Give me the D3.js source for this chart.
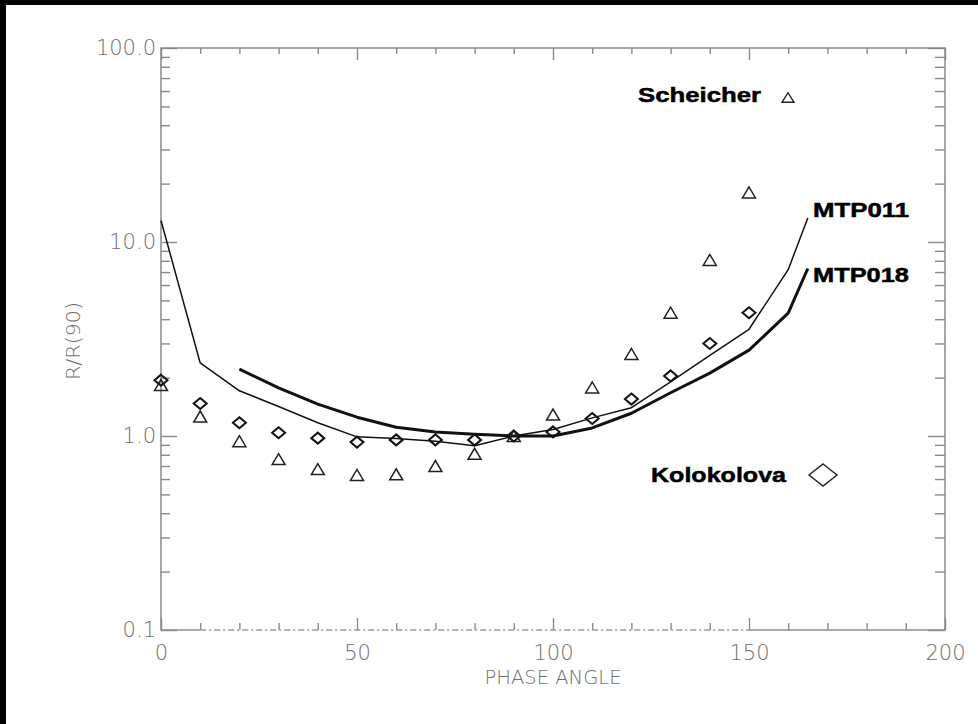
<!DOCTYPE html>
<html>
<head>
<meta charset="utf-8">
<script src="https://cdn.jsdelivr.net/npm/d3@7"></script>
<style>
  html, body { margin: 0; padding: 0; background: #000; }
  svg { display: block; }
</style>
</head>
<body>
<svg id="chart" width="978" height="724"></svg>
<script>
// Phase angles (degrees) for the measured points
const phase = [0, 10, 20, 30, 40, 50, 60, 70, 80, 90, 100, 110, 120, 130, 140, 150];
// Scheicher measurements, R/R(90)
const scheicher = [1.83, 1.26, 0.94, 0.76, 0.675, 0.63, 0.635, 0.70, 0.81, 1.0, 1.29, 1.78, 2.65, 4.32, 8.08, 18.0];
// Kolokolova measurements, R/R(90)
const kolokolova = [1.94, 1.47, 1.17, 1.04, 0.975, 0.93, 0.955, 0.955, 0.955, 1.0, 1.05, 1.23, 1.55, 2.04, 3.0, 4.32];

// Model curves
const mtp011Phase = [0, 10, 20, 30, 40, 50, 60, 70, 80, 90, 100, 110, 120, 130, 140, 150, 160, 165];
const mtp011 = [12.9, 2.38, 1.71, 1.42, 1.17, 0.99, 0.97, 0.94, 0.89, 1.0, 1.08, 1.24, 1.40, 1.90, 2.60, 3.55, 7.2, 13.3];
const mtp018Phase = [20, 30, 40, 50, 60, 70, 80, 90, 100, 110, 120, 130, 140, 150, 160, 165];
const mtp018 = [2.21, 1.77, 1.46, 1.25, 1.11, 1.05, 1.02, 1.0, 1.0, 1.1, 1.31, 1.67, 2.11, 2.77, 4.3, 7.3];

// Axis ticks
const xMajor = [0, 50, 100, 150, 200];
const xMinor = [10, 20, 30, 40, 60, 70, 80, 90, 110, 120, 130, 140, 160, 170, 180, 190];
const yMajor = [0.1, 1, 10, 100];
const yMajorLabels = ["0.1", "1.0", "10.0", "100.0"];
const yMinor = [0.2, 0.3, 0.4, 0.5, 0.6, 0.7, 0.8, 0.9, 2, 3, 4, 5, 6, 7, 8, 9, 20, 30, 40, 50, 60, 70, 80, 90];

const svg = d3.select("#chart");

// White page inside the black border
svg.append("rect").attr("x", 6).attr("y", 5).attr("width", 972).attr("height", 719).attr("fill", "#fff");

const x = d3.scaleLinear().domain([0, 200]).range([161, 945]);
const y = d3.scaleLog().domain([0.1, 100]).range([630, 48]);

const axisColor = "#8a8a8a";
const textGray = "#6f6f6f";
const labelFont = "'DejaVu Sans', 'Liberation Sans', sans-serif";

function styleAxis(g) {
  g.select(".domain").remove();
  g.selectAll(".tick line").attr("stroke", axisColor).attr("stroke-width", 1.4);
  g.selectAll(".tick text")
    .attr("fill", textGray)
    .style("font-family", labelFont)
    .style("font-weight", "200")
    .style("font-size", "21px");
}

// Left axis: majors with labels, minors without
svg.append("g").attr("transform", `translate(${x(0)},0)`)
  .call(d3.axisLeft(y).tickValues(yMajor).tickSize(-16).tickPadding(5)
    .tickFormat((d, i) => yMajorLabels[i]))
  .call(styleAxis);
svg.append("g").attr("transform", `translate(${x(0)},0)`)
  .call(d3.axisLeft(y).tickValues(yMinor).tickSize(-9).tickFormat(""))
  .call(styleAxis);

// Right axis
svg.append("g").attr("transform", `translate(${x(200)},0)`)
  .call(d3.axisRight(y).tickValues(yMajor).tickSize(-17).tickFormat(""))
  .call(styleAxis);
svg.append("g").attr("transform", `translate(${x(200)},0)`)
  .call(d3.axisRight(y).tickValues(yMinor).tickSize(-10).tickFormat(""))
  .call(styleAxis);

// Bottom axis
svg.append("g").attr("transform", `translate(0,${y(0.1)})`)
  .call(d3.axisBottom(x).tickValues(xMajor).tickSize(-12).tickPadding(15).tickFormat(d3.format("d")))
  .call(styleAxis);
svg.append("g").attr("transform", `translate(0,${y(0.1)})`)
  .call(d3.axisBottom(x).tickValues(xMinor).tickSize(-7).tickFormat(""))
  .call(styleAxis);

// Top axis
svg.append("g").attr("transform", `translate(0,${y(100)})`)
  .call(d3.axisTop(x).tickValues(xMajor).tickSize(-12).tickFormat(""))
  .call(styleAxis);
svg.append("g").attr("transform", `translate(0,${y(100)})`)
  .call(d3.axisTop(x).tickValues(xMinor).tickSize(-6).tickFormat(""))
  .call(styleAxis);

// Plot frame: left, top and right edges solid
svg.append("path")
  .attr("d", `M${x(10)},${y(0.1)}H${x(0)}V${y(100)}H${x(200)}V${y(0.1)}H${x(150)}`)
  .attr("fill", "none").attr("stroke", axisColor).attr("stroke-width", 1.5);
// broken stretch of the bottom edge
svg.append("line")
  .attr("x1", x(10)).attr("x2", x(150)).attr("y1", y(0.1)).attr("y2", y(0.1))
  .attr("stroke", "#9a9a9a").attr("stroke-width", 1.3).attr("stroke-dasharray", "6,3,2,3");

// Axis titles
svg.append("text")
  .attr("x", x(100)).attr("y", 684).attr("text-anchor", "middle")
  .attr("textLength", 137).attr("lengthAdjust", "spacingAndGlyphs")
  .attr("fill", textGray).style("font-family", labelFont).style("font-weight", "200").style("font-size", "20px")
  .text("PHASE ANGLE");
svg.append("text")
  .attr("transform", "translate(80,341) rotate(-90)").attr("text-anchor", "middle")
  .attr("textLength", 78).attr("lengthAdjust", "spacingAndGlyphs")
  .attr("fill", textGray).style("font-family", labelFont).style("font-weight", "200").style("font-size", "20px")
  .text("R/R(90)");

// Model curves
const line = d3.line().x(d => x(d[0])).y(d => y(d[1]));
svg.append("path")
  .datum(mtp011Phase.map((p, i) => [p, mtp011[i]]))
  .attr("d", line).attr("fill", "none").attr("stroke", "#111").attr("stroke-width", 1.5)
  .attr("stroke-linejoin", "round");
svg.append("path")
  .datum(mtp018Phase.map((p, i) => [p, mtp018[i]]))
  .attr("d", line).attr("fill", "none").attr("stroke", "#111").attr("stroke-width", 3)
  .attr("stroke-linejoin", "round");

// Marker shapes
const triPath = (w, h) => `M${-w},${h}L0,${-h}L${w},${h}Z`;
const diaPath = (w, h) => `M0,${-h}L${w},0L0,${h}L${-w},0Z`;

svg.append("g").selectAll("path")
  .data(phase.map((p, i) => [p, scheicher[i]]))
  .join("path")
  .attr("transform", d => `translate(${x(d[0])},${y(d[1])})`)
  .attr("d", triPath(6.5, 5.5))
  .attr("fill", "none").attr("stroke", "#222").attr("stroke-width", 1.5);

svg.append("g").selectAll("path")
  .data(phase.map((p, i) => [p, kolokolova[i]]))
  .join("path")
  .attr("transform", d => `translate(${x(d[0])},${y(d[1])})`)
  .attr("d", diaPath(6.5, 5.5))
  .attr("fill", "none").attr("stroke", "#111").attr("stroke-width", 2);

// Series labels, heavy face
const boldFont = "'Liberation Sans', Arial, sans-serif";
function boldLabel(tx, ty, w, s) {
  svg.append("text")
    .attr("x", tx).attr("y", ty)
    .attr("textLength", w).attr("lengthAdjust", "spacingAndGlyphs")
    .attr("fill", "#000").attr("stroke", "#000").attr("stroke-width", 0.5)
    .style("font-family", boldFont).style("font-weight", "bold").style("font-size", "21px")
    .text(s);
}
boldLabel(638, 102, 123, "Scheicher");
boldLabel(813, 217, 96, "MTP011");
boldLabel(813, 282, 96, "MTP018");
boldLabel(651, 482, 135, "Kolokolova");

// Legend symbols
svg.append("path").attr("transform", "translate(788,97.5)")
  .attr("d", triPath(6, 4.8)).attr("fill", "none").attr("stroke", "#222").attr("stroke-width", 1.4);
svg.append("path").attr("transform", "translate(823,475)")
  .attr("d", diaPath(14, 11)).attr("fill", "none").attr("stroke", "#222").attr("stroke-width", 1.4);
</script>
</body>
</html>
